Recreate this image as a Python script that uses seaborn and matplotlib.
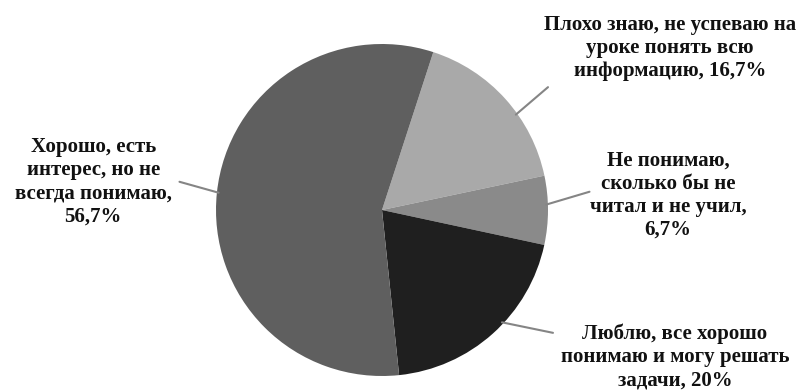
import numpy as np
import matplotlib
matplotlib.use("Agg")
import matplotlib.pyplot as plt
import seaborn as sns

# Данные
labels = [
    "Плохо знаю, не успеваю на\nуроке понять всю\nинформацию, 16,7%",
    "Не понимаю,\nсколько бы не\nчитал и не учил,\n6,7%",
    "Люблю, все хорошо\nпонимаю и могу решать\nзадачи, 20%",
    "Хорошо, есть\nинтерес, но не\nвсегда понимаю,\n56,7%",
]
values = [16.7, 6.7, 20, 56.7]
colors = ["#a9a9a9", "#8a8a8a", "#1f1f1f", "#5f5f5f"]

# Положение подписей (центр блока текста), концы выносок и сдвиг их начала
text_pos = [(1.735, 0.976), (1.723, 0.09), (1.765, -0.886), (-1.74, 0.169)]
line_end = [(1.00, 0.74), (1.25, 0.11), (1.03, -0.74), (-1.22, 0.17)]
ang_shift = [-6.5, 2, 5, 0]

sns.set_theme(style="white")
plt.rcParams["font.family"] = ["Liberation Serif", "DejaVu Serif"]

W, H = 803, 391
fig = plt.figure(figsize=(W / 100, H / 100), dpi=100)
cx, cy, r = 382, 210, 166
ax = fig.add_axes([(cx - r) / W, (H - cy - r) / H, 2 * r / W, 2 * r / H])

wedges, _ = ax.pie(values, colors=colors, startangle=72, counterclock=False,
                   radius=1, wedgeprops=dict(linewidth=0))
ax.set_xlim(-1, 1)
ax.set_ylim(-1, 1)
ax.set_aspect("equal")
ax.axis("off")

for w, lab, tp, le, da in zip(wedges, labels, text_pos, line_end, ang_shift):
    ang = np.deg2rad((w.theta1 + w.theta2) / 2 + da)
    start = (np.cos(ang) * 0.99, np.sin(ang) * 0.99)
    ax.plot([start[0], le[0]], [start[1], le[1]], color="#858585", lw=1.5,
            clip_on=False)
    ax.text(tp[0], tp[1], lab, ha="center", va="center", fontsize=15,
            fontweight="bold", color="#111111", linespacing=1.2,
            clip_on=False)

fig.savefig("out.png", dpi=100)
